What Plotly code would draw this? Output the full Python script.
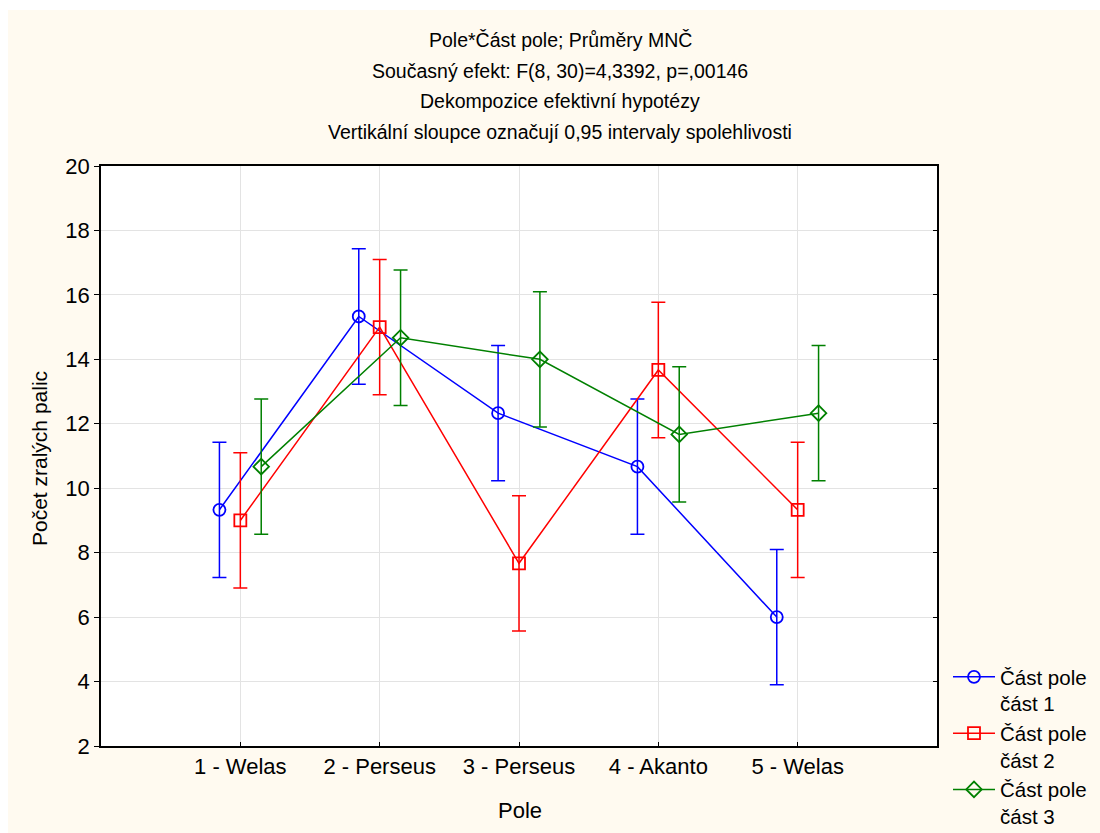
import plotly.graph_objects as go

categories = ["1 - Welas", "2 - Perseus", "3 - Perseus", "4 - Akanto", "5 - Welas"]
series_names = ["Část pole<br>část 1", "Část pole<br>část 2", "Část pole<br>část 3"]
means_1 = [9.33, 15.33, 12.33, 10.67, 6.00]
means_2 = [9.00, 15.00, 7.67, 13.67, 9.33]
means_3 = [10.67, 14.67, 14.00, 11.67, 12.33]
ci_half = [2.10, 2.10, 2.10, 2.10, 2.10]
title_lines = [
    "Pole*Část pole; Průměry MNČ",
    "Současný efekt: F(8, 30)=4,3392, p=,00146",
    "Dekompozice efektivní hypotézy",
    "Vertikální sloupce označují 0,95 intervaly spolehlivosti",
]
y_title = "Počet zralých palic"
x_title = "Pole"

colors = ["#0000FF", "#FF0000", "#008000"]
symbols = ["circle-open", "square-open", "diamond-open"]
offsets = [-0.15, 0.0, 0.15]
FONT = "Liberation Sans, Arial, sans-serif"

fig = go.Figure()
for name, vals, col, sym, off in zip(series_names, [means_1, means_2, means_3], colors, symbols, offsets):
    xs = [i + 1 + off for i in range(len(categories))]
    fig.add_trace(go.Scatter(
        x=xs, y=vals, name=name, mode="lines+markers",
        line=dict(color=col, width=1.5),
        marker=dict(symbol=sym, size=12, color=col, line=dict(color=col, width=1.8)),
        error_y=dict(type="data", array=ci_half, visible=True, color=col, thickness=1.5, width=7),
    ))

# invisible helper trace so the right-hand mirrored axis (inside ticks) is drawn
fig.add_trace(go.Scatter(x=[3], y=[10], yaxis="y2", mode="markers",
                         marker=dict(opacity=0), showlegend=False, hoverinfo="skip"))

l, r, t, b = 101, 163, 166, 87
W, H = 1100, 833
pw, ph = W - l - r, H - t - b

def px_to_paper_y(y):
    return (H - b - y) / ph

def px_to_paper_x(x):
    return (x - l) / pw

annotations = []
for i, line in enumerate(title_lines):
    annotations.append(dict(
        text=line, xref="paper", yref="paper",
        x=px_to_paper_x(560), y=px_to_paper_y(40 + 30.5 * i),
        xanchor="center", yanchor="middle", showarrow=False,
        font=dict(family=FONT, size=19.5, color="black"),
    ))
annotations.append(dict(
    text=y_title, xref="paper", yref="paper", textangle=-90,
    x=px_to_paper_x(39), y=px_to_paper_y(459), xanchor="center", yanchor="middle",
    showarrow=False, font=dict(family=FONT, size=21, color="black"),
))
annotations.append(dict(
    text=x_title, xref="paper", yref="paper",
    x=px_to_paper_x(520), y=px_to_paper_y(810), xanchor="center", yanchor="middle",
    showarrow=False, font=dict(family=FONT, size=22, color="black"),
))

shapes = [
    dict(type="rect", xref="paper", yref="paper",
         x0=px_to_paper_x(-5), x1=px_to_paper_x(1105),
         y0=px_to_paper_y(10), y1=px_to_paper_y(-5),
         fillcolor="white", line=dict(width=0), layer="below"),
    dict(type="rect", xref="paper", yref="paper",
         x0=px_to_paper_x(-5), x1=px_to_paper_x(8),
         y0=px_to_paper_y(840), y1=px_to_paper_y(-5),
         fillcolor="white", line=dict(width=0), layer="below"),
]

fig.update_layout(
    width=W, height=H,
    margin=dict(l=l, r=r, t=t, b=b, pad=0, autoexpand=False),
    paper_bgcolor="#FFFAF0",
    plot_bgcolor="white",
    font=dict(family=FONT, size=22, color="black"),
    annotations=annotations,
    shapes=shapes,
    showlegend=True,
    legend=dict(
        xref="container", yref="container",
        x=948 / W, y=(H - 657) / H, xanchor="left", yanchor="top",
        bgcolor="rgba(0,0,0,0)", font=dict(family=FONT, size=20.5, color="black"),
        tracegroupgap=0, itemwidth=42, valign="top",
    ),
    xaxis=dict(
        range=[0, 6], tickmode="array", tickvals=[1, 2, 3, 4, 5], ticktext=categories,
        showgrid=True, gridcolor="#E3E3E3", gridwidth=1, zeroline=False,
        showline=True, linecolor="black", linewidth=1.5, mirror=True,
        ticks="inside", ticklen=4, tickcolor="black",
        tickfont=dict(family=FONT, size=22), automargin=False,
    ),
    yaxis=dict(
        range=[2, 20], tickmode="array", tickvals=list(range(2, 21, 2)),
        showgrid=True, gridcolor="#E3E3E3", gridwidth=1, zeroline=False,
        showline=True, linecolor="black", linewidth=1.5, mirror=True,
        ticks="outside", ticklen=5, tickcolor="black",
        tickfont=dict(family=FONT, size=22), automargin=False,
    ),
    yaxis2=dict(
        range=[2, 20], tickmode="array", tickvals=list(range(2, 21, 2)),
        overlaying="y", side="right", showgrid=False, zeroline=False,
        showline=False, showticklabels=False,
        ticks="inside", ticklen=4, tickcolor="black", automargin=False,
    ),
)

fig.write_html("out.html")
